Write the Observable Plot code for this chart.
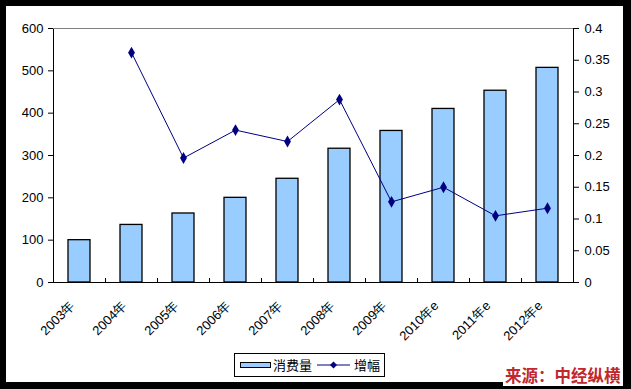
<!DOCTYPE html>
<html>
<head>
<meta charset="utf-8">
<script src="https://cdn.jsdelivr.net/npm/d3@7"></script>
<script src="https://cdn.jsdelivr.net/npm/@observablehq/plot@0.6"></script>
<style>
  html, body { margin: 0; padding: 0; background: #000; width: 631px; height: 389px; overflow: hidden; }
  #card { position: absolute; left: 6px; top: 6px; width: 617px; height: 376px; background: #fff; }
  #chart { position: absolute; left: 0; top: 0; }
  #legend { position: absolute; left: 234px; top: 353px; width: 151px; height: 24px; border: 1px solid #000; background: #fff; box-sizing: border-box;
            font-family: "Noto Sans CJK SC", sans-serif; font-size: 13px; white-space: nowrap; }
  #legend .sw { position: absolute; left: 5px; top: 8px; width: 31px; height: 6px; background: #99ccff; border: 1px solid #000; box-sizing: border-box; }
  #legend .t1 { position: absolute; left: 38px; top: 2px; line-height: 18px; }
  #legend svg { position: absolute; left: 82px; top: 6px; }
  #legend .t2 { position: absolute; left: 119px; top: 2px; line-height: 18px; }
  #source { position: absolute; left: 503px; top: 365px; font-family: "Noto Sans CJK SC", sans-serif; font-weight: bold; font-size: 16.5px; color: #c1272d; background: #fff; padding: 0 2px; line-height: 21px; white-space: nowrap; }
</style>
</head>
<body>
<div id="card"><div id="chart"></div></div>
<div id="legend"><span class="sw"></span><span class="t1">消费量</span><svg width="33" height="10"><line x1="0" y1="5" x2="33" y2="5" stroke="#000080" stroke-width="1"/><path d="M16.5,1.5 L20,5 L16.5,8.5 L13,5 Z" fill="#000080"/></svg><span class="t2">增幅</span></div>
<div id="source">来源：中经纵横</div>
<script>
const years = ["2003年","2004年","2005年","2006年","2007年","2008年","2009年","2010年e","2011年e","2012年e"];
const consumption = [100, 136, 163, 200, 245, 316, 358, 410, 453, 507];
const growth = [null, 0.362, 0.196, 0.240, 0.222, 0.288, 0.127, 0.150, 0.105, 0.117];
const leftTicks = [0, 100, 200, 300, 400, 500, 600];
const rightTicks = [0, 0.05, 0.1, 0.15, 0.2, 0.25, 0.3, 0.35, 0.4];

const ratio = leftTicks[leftTicks.length - 1] / rightTicks[rightTicks.length - 1];
const data = years.map((year, i) => ({year, consumption: consumption[i], growth: growth[i]}));
const lineData = data.filter(d => d.growth != null);

const chart = Plot.plot({
  width: 617,
  height: 330,
  marginLeft: 47,
  marginRight: 50,
  marginTop: 22,
  marginBottom: 54,
  style: {fontFamily: "Arial, 'Liberation Sans', sans-serif", fontSize: "13px", color: "#000", background: "transparent", overflow: "visible"},
  x: {domain: years, paddingInner: 0.58, paddingOuter: 0.29, label: null},
  y: {domain: [leftTicks[0], leftTicks[leftTicks.length - 1]], label: null},
  marks: [
    Plot.frame({stroke: "#000"}),
    Plot.ruleY([leftTicks[leftTicks.length - 1]], {stroke: "#808080"}),
    Plot.barY(data, {x: "year", y: "consumption", fill: "#99ccff", stroke: "#000", strokeWidth: 1.3}),
    Plot.ruleX(years.slice(1), {x: d => d, y1: 0, y2: 0, insetTop: -4, dx: -26, stroke: "#000"}),
    Plot.line(lineData, {x: "year", y: d => d.growth * ratio, stroke: "#000080", strokeWidth: 1}),
    Plot.dot(lineData, {x: "year", y: d => d.growth * ratio, symbol: "diamond", fill: "#000080", stroke: "none", r: 3.6}),
    Plot.axisY({anchor: "left", ticks: leftTicks, tickSize: 5, tickPadding: 5, fontSize: 13, label: null}),
    Plot.axisY({anchor: "right", ticks: rightTicks.map(v => v * ratio), tickFormat: d => String(+(d / ratio).toFixed(2)), tickSize: 5, tickPadding: 6, fontSize: 13, label: null}),
    Plot.axisX({tickSize: 0, tickRotate: -45, tickPadding: 8, dx: -7, dy: 13, fontSize: 13, label: null})
  ]
});
document.getElementById("chart").appendChild(chart);
</script>
</body>
</html>
